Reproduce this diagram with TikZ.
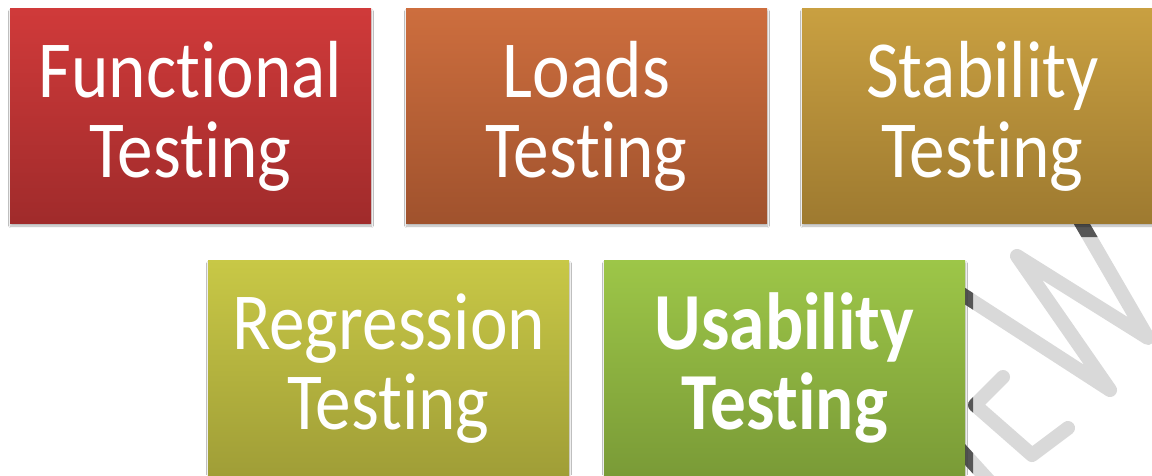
\documentclass[tikz,border=0pt]{standalone}
\usepackage{fontspec}
\setmainfont{Carlito}[FakeStretch=0.88, RawFeature={-liga;-clig;-calt;-dlig}]
\usetikzlibrary{shadows.blur}
\definecolor{c1t}{HTML}{D03A3A}\definecolor{c1b}{HTML}{A02B2B}
\definecolor{c2t}{HTML}{CD6E3E}\definecolor{c2b}{HTML}{A0522D}
\definecolor{c3t}{HTML}{C9A041}\definecolor{c3b}{HTML}{9E7A30}
\definecolor{c4t}{HTML}{C8C846}\definecolor{c4b}{HTML}{A09E37}
\definecolor{c5t}{HTML}{9DC648}\definecolor{c5b}{HTML}{7A9B37}
\definecolor{wmlight}{HTML}{D9D9D9}
\definecolor{wmdark}{HTML}{555555}
\newcommand\wmstrokes[1]{%
  \draw[#1] (940,280) -- (1110,390) -- (1017,256) -- (1148,338) -- (1075,212);
  \draw[#1] (1003,377) -- (975,405) -- (1032,455) -- (1068,428);
  \draw[#1] (950,438) -- (1000,493);
}
\tikzset{
  tbox/.style={rectangle, minimum width=361pt, minimum height=215pt, inner sep=0pt,
    blur shadow={shadow xshift=0.5pt, shadow yshift=-3pt, shadow blur steps=6, shadow opacity=30}},
  lbl/.style={anchor=base, text=white, inner sep=0pt, font=\fontsize{81}{80}\selectfont},
  wm/.style={line width=14pt, line cap=round, line join=round}
}
\begin{document}
\begin{tikzpicture}[x=1pt,y=-1pt]
\useasboundingbox (0,0) rectangle (1152,475);
\clip (0,0) rectangle (1152,475);
\fill[white] (0,0) rectangle (1152,475);
% watermark
\wmstrokes{wm, wmlight}
\begin{scope}
  \clip (802,223) rectangle (1152,237) (965,260) rectangle (973,475);
  \wmstrokes{wm, wmdark}
\end{scope}
% boxes
\node[tbox, top color=c1t, bottom color=c1b] (b1) at (190.5,115.5) {};
\node[tbox, top color=c2t, bottom color=c2b] (b2) at (586.5,115.5) {};
\node[tbox, top color=c3t, bottom color=c3b] (b3) at (982.5,115.5) {};
\node[tbox, top color=c4t, bottom color=c4b] (b4) at (388.5,367.5) {};
\node[tbox, top color=c5t, bottom color=c5b] (b5) at (784.5,367.5) {};
% labels
\node[lbl] (t1a) at (190.5,97) {Functional};
\node[lbl] (t1b) at (190.5,177) {Test\kern0pt ing};
\node[lbl] (t2a) at (586.5,97) {Loads};
\node[lbl] (t2b) at (586.5,177) {Test\kern0pt ing};
\node[lbl] (t3a) at (982.5,97) {Stability};
\node[lbl] (t3b) at (982.5,177) {Test\kern0pt ing};
\node[lbl] (t4a) at (388.5,349) {Regression};
\node[lbl] (t4b) at (388.5,429) {Test\kern0pt ing};
\node[lbl, font=\fontsize{81}{80}\selectfont\bfseries] (t5a) at (784.5,349) {Usability};
\node[lbl, font=\fontsize{81}{80}\selectfont\bfseries] (t5b) at (784.5,429) {Test\kern0pt ing};
\end{tikzpicture}
\end{document}
